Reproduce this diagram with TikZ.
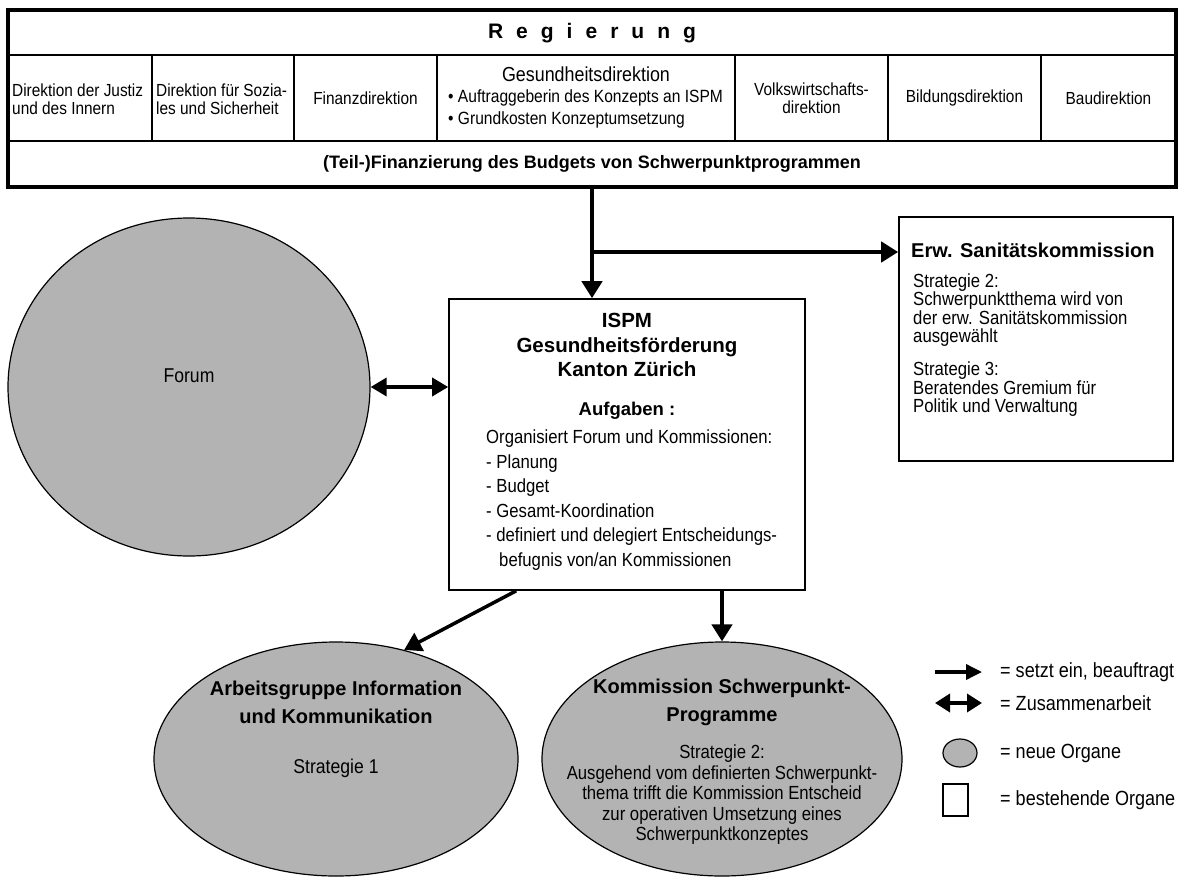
\documentclass[tikz,border=0pt]{standalone}
\usepackage{fontspec}
\setmainfont{Liberation Sans}
\newfontfamily\narrowsf{Liberation Sans}[FakeStretch=0.88]
\usetikzlibrary{positioning,arrows.meta,shapes.geometric}
\definecolor{organgray}{HTML}{B3B3B3}
\newcommand{\fsz}[2]{\fontsize{#1}{#2}\selectfont}

\begin{document}
\begin{tikzpicture}[x=1pt,y=-1pt,
    box/.style={draw,line width=1.6pt,inner sep=0pt},
    organ/.style={ellipse,draw,line width=1.2pt,fill=organgray,inner sep=0pt},
    cell/.style={font=\narrowsf\fsz{17.5}{18.5},align=center,inner sep=0pt},
    body/.style={font=\narrowsf\fsz{19}{18.5},align=left,inner sep=0pt},
    head/.style={font=\bfseries\fsz{20}{28},align=center,inner sep=0pt},
    legtext/.style={font=\narrowsf\fsz{20.5}{22},anchor=west,inner sep=0pt},
    arr/.style={line width=4.5pt,-{Triangle[length=17pt,width=20pt]}},
    arrthin/.style={line width=3.5pt,-{Triangle[length=17pt,width=20pt]}},
    both/.style={line width=3.5pt,{Triangle[length=16pt,width=18pt]}-{Triangle[length=16pt,width=18pt]}},
    legarr/.style={line width=3.5pt,-{Triangle[length=16pt,width=15pt]}},
    legboth/.style={line width=3.5pt,{Triangle[length=15pt,width=18pt]}-{Triangle[length=15pt,width=18pt]}}]
    \useasboundingbox (0,0) rectangle (1192,878);

    \draw[line width=1.2pt] (8,55) -- (1176,55) (8,141) -- (1176,141);
    \foreach \x in {152,294,437,735,888,1041}
        \draw[line width=1.2pt] (\x,55) -- (\x,141);
    \draw[line width=4.5pt] (8,10) rectangle (1176,187);

    \node[font=\bfseries\fsz{21}{24},inner sep=0pt] (regierung) at (592,33)
        {R\kern13pt e\kern13pt g\kern13pt i\kern13pt e\kern13pt r\kern13pt u\kern13pt n\kern13pt g};
    \node[cell,align=left,anchor=west] (justiz) at (12,99) {Direktion der Justiz\\und des Innern};
    \node[cell,align=left,anchor=west] (soziales) at (156,99) {Direktion für Sozia-\\les und Sicherheit};
    \node[cell] (finanz) at (365.5,98) {Finanzdirektion};
    \node[cell,font=\narrowsf\fsz{20.3}{20}] (gesundheit) at (586,74) {Gesundheitsdirektion};
    \node[cell,font=\narrowsf\fsz{17.7}{22},align=left,anchor=west] (auftrag) at (448,109)
        {\textbullet\ Auftraggeberin des Konzepts an ISPM\\\textbullet\ Grundkosten Konzeptumsetzung};
    \node[cell] (volkswirtschaft) at (811.5,98) {Volkswirtschafts-\\direktion};
    \node[cell] (bildung) at (964.5,98) {Bildungsdirektion};
    \node[cell] (bau) at (1108.5,98) {Baudirektion};
    \node[font=\bfseries\fsz{18}{20},inner sep=0pt] (finanzierung) at (592,164)
        {(Teil-)Finanzierung des Budgets von Schwerpunktprogrammen};

    \node[box,minimum width=356pt,minimum height=291pt] (ispm) at (627,444.5) {};
    \node[head,font=\bfseries\fsz{20.5}{24.5}] (ispmtitel) at (627,345)
        {ISPM\\Gesundheitsförderung\\Kanton Zürich};
    \node[font=\bfseries\fsz{18.5}{22},inner sep=0pt] (aufgaben) at (627,411) {Aufgaben :};
    \node[body,font=\narrowsf\fsz{19}{24.5},anchor=west] (aufgabenliste) at (486,500)
        {Organisiert Forum und Kommissionen:\\- Planung\\- Budget\\- Gesamt-Koordination\\
         - definiert und delegiert Entscheidungs-\\\hspace*{13pt}befugnis von/an Kommissionen};

    \node[box,minimum width=274pt,minimum height=244pt] (sanitaet) at (1036,339) {};
    \node[font=\bfseries\fsz{20}{24},anchor=west,inner sep=0pt] (sanitaettitel) at (911,250)
        {Erw. Sanitätskommission};
    \node[body,anchor=west] (strategiezwei) at (913,310)
        {Strategie 2:\\Schwerpunktthema wird von\\der erw. Sanitätskommission\\ausgewählt};
    \node[body,anchor=west] (strategiedrei) at (913,389.5)
        {Strategie 3:\\Beratendes Gremium für\\Politik und Verwaltung};

    \node[organ,minimum width=362pt,minimum height=338pt] (forum) at (189,387) {};
    \node[font=\narrowsf\fsz{20}{22},inner sep=0pt] (forumtext) at (189,376) {Forum};

    \node[organ,minimum width=364pt,minimum height=234pt] (arbeitsgruppe) at (336,759) {};
    \node[head] (arbeitsgruppetitel) at (336,702) {Arbeitsgruppe Information\\und Kommunikation};
    \node[font=\narrowsf\fsz{20}{22},inner sep=0pt] (strategieeins) at (336,768) {Strategie 1};

    \node[organ,minimum width=360pt,minimum height=234pt] (kommission) at (722,759) {};
    \node[head] (kommissiontitel) at (722,702) {Kommission Schwerpunkt-\\Programme};
    \node[font=\narrowsf\fsz{19}{20.5},align=center,inner sep=0pt] (strategiezweik) at (722,795)
        {Strategie 2:\\Ausgehend vom definierten Schwerpunkt-\\thema trifft die Kommission Entscheid\\
         zur operativen Umsetzung eines\\Schwerpunktkonzeptes};

    \coordinate (stamm) at (592,187);
    \coordinate (abzweig) at (592,252);
    \draw[arr] (stamm) -- (stamm |- ispm.north);
    \draw[arr] (abzweig) -- (abzweig -| sanitaet.west);
    \draw[both] (forum.east) -- (forum.east -| ispm.west);
    \draw[arrthin] ([xshift=68pt]ispm.south west) -- (arbeitsgruppe.58);
    \draw[arr] (ispm.south -| kommission.north) -- (kommission.north);

    \coordinate (legpfeilA) at (935,672);
    \coordinate (legpfeilB) at (982,672);
    \coordinate (legdoppelA) at (935,703);
    \coordinate (legdoppelB) at (982,703);
    \draw[legarr] (legpfeilA) -- (legpfeilB);
    \draw[legboth] (legdoppelA) -- (legdoppelB);
    \node[organ,minimum width=34pt,minimum height=28pt] (legorgan) at (960,753) {};
    \node[draw,line width=1.2pt,minimum width=25pt,minimum height=32pt,inner sep=0pt] (legbox) at (955.5,800) {};
    \node[legtext] (legsetzt) at (1000,672) {= setzt ein, beauftragt};
    \node[legtext] (legzusammen) at (1000,703) {= Zusammenarbeit};
    \node[legtext] (legneu) at (1000,753) {= neue Organe};
    \node[legtext] (legbestehend) at (1000,800) {= bestehende Organe};
\end{tikzpicture}
\end{document}
